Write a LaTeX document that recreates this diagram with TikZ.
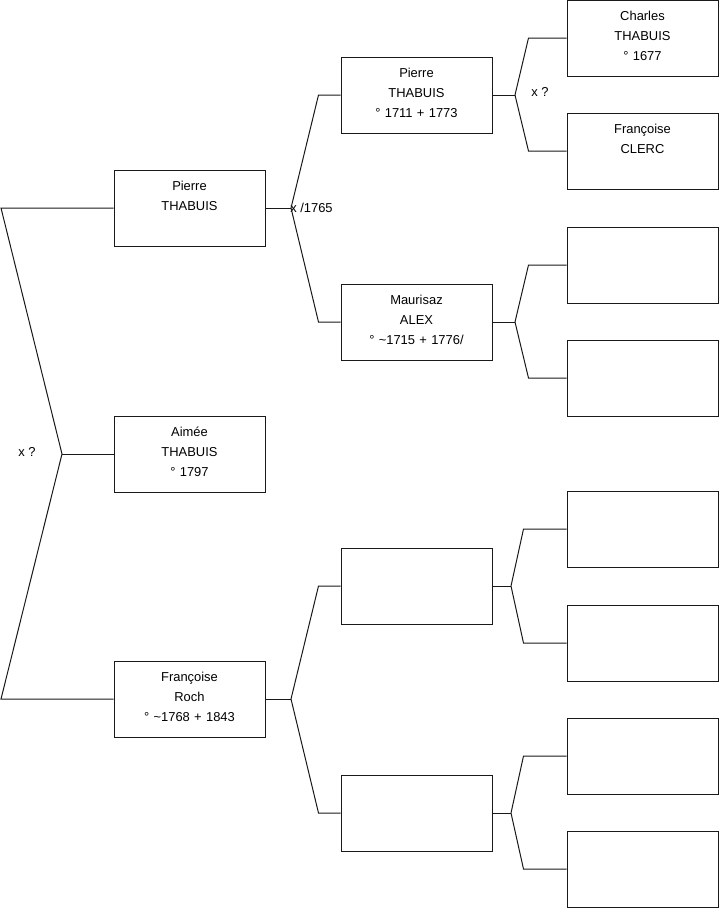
\documentclass[tikz,border=0pt]{standalone}
\usepackage{fontspec}
\setmainfont{Liberation Sans}
\usetikzlibrary{calc}
\begin{document}
\begin{tikzpicture}[
    x=0.75pt,y=-0.75pt,
    conn/.style={draw=black!90,line width=0.75pt},
    person/.style={draw=black!90,line width=0.75pt,inner sep=0pt,text width=113.25pt,align=center,
        text height=15.4pt,text depth=41.6pt,font=\fontsize{9.7}{15}\selectfont},
    union/.style={inner sep=0pt,anchor=west,font=\fontsize{9.7}{15}\selectfont}
]
\useasboundingbox (0,0) rectangle (719,908);

\node[person] (p1) at (189.5,208) {Pierre\\THABUIS};
\node[person] (a1) at (189.5,454) {Aimée\\THABUIS\\° 1797};
\node[person] (f1) at (189.5,699) {Françoise\\Roch\\° \textasciitilde1768 + 1843};

\node[person] (p2) at (416.5,95)  {Pierre\\THABUIS\\° 1711 + 1773};
\node[person] (m2) at (416.5,322) {Maurisaz\\ALEX\\° \textasciitilde1715 + 1776/};
\node[person] (u2) at (416.5,586) {};
\node[person] (l2) at (416.5,813) {};

\node[person] (c3) at (642.5,38)  {Charles\\THABUIS\\° 1677};
\node[person] (k3) at (642.5,151) {Françoise\\CLERC};
\node[person] (e3) at (642.5,265) {};
\node[person] (e4) at (642.5,378) {};
\node[person] (e5) at (642.5,529) {};
\node[person] (e6) at (642.5,643) {};
\node[person] (e7) at (642.5,756) {};
\node[person] (e8) at (642.5,869) {};

\coordinate (r)  at (62,454);
\coordinate (rt) at (1,208);
\coordinate (rb) at (1,699);
\coordinate (jp1) at (291,208);
\coordinate (jf1) at (291,699);
\coordinate (jp2) at (515,95);
\coordinate (jm2) at (515,322);
\coordinate (ju2) at (511,586);
\coordinate (jl2) at (511,813);

\node[union] at (18,452)  {x ?};
\node[union] at (290,208) {x /1765};
\node[union] at (531,92)  {x ?};

\draw[conn] (p1.west) -- (rt) -- (r) -- (rb) -- (f1.west);
\draw[conn] (r) -- (a1.west);

\draw[conn] (p1.east) -- (jp1);
\draw[conn] (jp1) -- ($(p2.west)+(-22,0)$) -- (p2.west);
\draw[conn] (jp1) -- ($(m2.west)+(-22,0)$) -- (m2.west);
\draw[conn] (f1.east) -- (jf1);
\draw[conn] (jf1) -- ($(u2.west)+(-22,0)$) -- (u2.west);
\draw[conn] (jf1) -- ($(l2.west)+(-22,0)$) -- (l2.west);

\draw[conn] (p2.east) -- (jp2);
\draw[conn] (jp2) -- ($(c3.west)+(-38,0)$) -- (c3.west);
\draw[conn] (jp2) -- ($(k3.west)+(-38,0)$) -- (k3.west);
\draw[conn] (m2.east) -- (jm2);
\draw[conn] (jm2) -- ($(e3.west)+(-38,0)$) -- (e3.west);
\draw[conn] (jm2) -- ($(e4.west)+(-38,0)$) -- (e4.west);
\draw[conn] (u2.east) -- (ju2);
\draw[conn] (ju2) -- ($(e5.west)+(-43,0)$) -- (e5.west);
\draw[conn] (ju2) -- ($(e6.west)+(-43,0)$) -- (e6.west);
\draw[conn] (l2.east) -- (jl2);
\draw[conn] (jl2) -- ($(e7.west)+(-43,0)$) -- (e7.west);
\draw[conn] (jl2) -- ($(e8.west)+(-43,0)$) -- (e8.west);
\end{tikzpicture}
\end{document}
